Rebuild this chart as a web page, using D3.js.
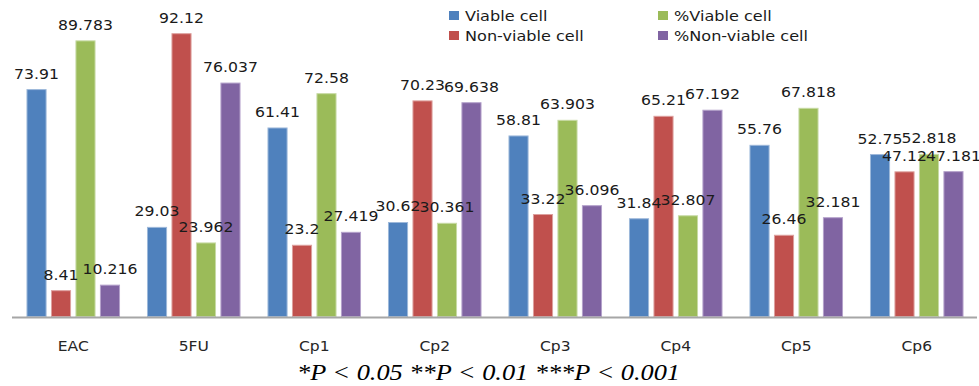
<!DOCTYPE html>
<html>
<head>
<meta charset="utf-8">
<script src="https://cdn.jsdelivr.net/npm/d3@7"></script>
<style>
  html, body { margin: 0; padding: 0; background: #ffffff; }
  svg { display: block; }
</style>
</head>
<body>
<svg id="chart" width="979" height="386"></svg>
<script>
const categories = ["EAC", "5FU", "Cp1", "Cp2", "Cp3", "Cp4", "Cp5", "Cp6"];
const seriesNames = ["Viable cell", "Non-viable cell", "%Viable cell", "%Non-viable cell"];
const viable = [73.91, 29.03, 61.41, 30.62, 58.81, 31.84, 55.76, 52.75];
const nonViable = [8.41, 92.12, 23.2, 70.23, 33.22, 65.21, 26.46, 47.12];
const pctViable = [89.783, 23.962, 72.58, 30.361, 63.903, 32.807, 67.818, 52.818];
const pctNonViable = [10.216, 76.037, 27.419, 69.638, 36.096, 67.192, 32.181, 47.181];
const valueLabels = [
  ["73.91", "29.03", "61.41", "30.62", "58.81", "31.84", "55.76", "52.75"],
  ["8.41", "92.12", "23.2", "70.23", "33.22", "65.21", "26.46", "47.12"],
  ["89.783", "23.962", "72.58", "30.361", "63.903", "32.807", "67.818", "52.818"],
  ["10.216", "76.037", "27.419", "69.638", "36.096", "67.192", "32.181", "47.181"]
];
const footnote = "*P < 0.05 **P < 0.01 ***P < 0.001";

const colors = ["#4F81BD", "#C0504D", "#9BBB59", "#8064A2"];
const strokes = ["#9DB8DA", "#DDA09E", "#C7DAA4", "#B4A2CB"];
const seriesValues = [viable, nonViable, pctViable, pctNonViable];

const svg = d3.select("#chart");
const SX = 1.12;

const x0 = d3.scaleBand().domain(categories).range([13, 977]).padding(0);
const bw = x0.bandwidth();
const x1 = d3.scaleBand().domain(d3.range(4)).range([bw * 0.116, bw * 0.884]).paddingInner(0.22).paddingOuter(0);
const y = d3.scaleLinear().domain([0, 100]).range([316.5, 9.5]);

const data = [];
seriesValues.forEach((vals, s) => {
  vals.forEach((v, i) => data.push({ s, i, v, label: valueLabels[s][i], cat: categories[i] }));
});

// bars
svg.append("g").selectAll("rect").data(data).join("rect")
  .attr("x", d => x0(d.cat) + x1(d.s))
  .attr("y", d => y(d.v))
  .attr("width", x1.bandwidth())
  .attr("height", d => y(0) - y(d.v))
  .attr("fill", d => colors[d.s])
  .attr("stroke", d => strokes[d.s])
  .attr("stroke-width", 1);

// axis line
svg.append("line")
  .attr("x1", 12).attr("x2", 977)
  .attr("y1", y(0) + 1).attr("y2", y(0) + 1)
  .attr("stroke", "#A6A6A6").attr("stroke-width", 2);

// value labels
svg.append("g").selectAll("text").data(data).join("text")
  .attr("transform", d => `translate(${x0(d.cat) + x1(d.s) + x1.bandwidth() / 2},${y(d.v) - 11}) scale(${SX},1)`)
  .attr("text-anchor", "middle")
  .attr("font-family", "DejaVu Sans, Verdana, sans-serif")
  .attr("font-size", 14)
  .attr("fill", "#1a1a1a")
  .text(d => d.label);

// category labels
svg.append("g").selectAll("text").data(categories).join("text")
  .attr("transform", d => `translate(${x0(d) + bw / 2},351) scale(1.15,1)`)
  .attr("text-anchor", "middle")
  .attr("font-family", "DejaVu Sans, Verdana, sans-serif")
  .attr("font-size", 13.5)
  .attr("fill", "#262626")
  .text(d => d);

// legend
const legendPos = [[449, 15], [449, 35], [658, 15], [658, 35]];
const lg = svg.append("g").selectAll("g").data(seriesNames).join("g")
  .attr("transform", (d, i) => `translate(${legendPos[i][0]},${legendPos[i][1]})`);
lg.append("rect").attr("x", 0).attr("y", -4).attr("width", 10).attr("height", 9)
  .attr("fill", (d, i) => colors[i]);
lg.append("text")
  .attr("transform", `translate(16,5.5) scale(1.15,1)`)
  .attr("font-family", "DejaVu Sans, Verdana, sans-serif")
  .attr("font-size", 14)
  .attr("fill", "#1a1a1a")
  .text(d => d);

// footnote
svg.append("text")
  .attr("x", 297).attr("y", 380)
  .attr("textLength", 383)
  .attr("lengthAdjust", "spacingAndGlyphs")
  .attr("font-family", "Liberation Serif, Times New Roman, serif")
  .attr("font-style", "italic")
  .attr("font-size", 24)
  .attr("fill", "#000")
  .text(footnote);
</script>
</body>
</html>
